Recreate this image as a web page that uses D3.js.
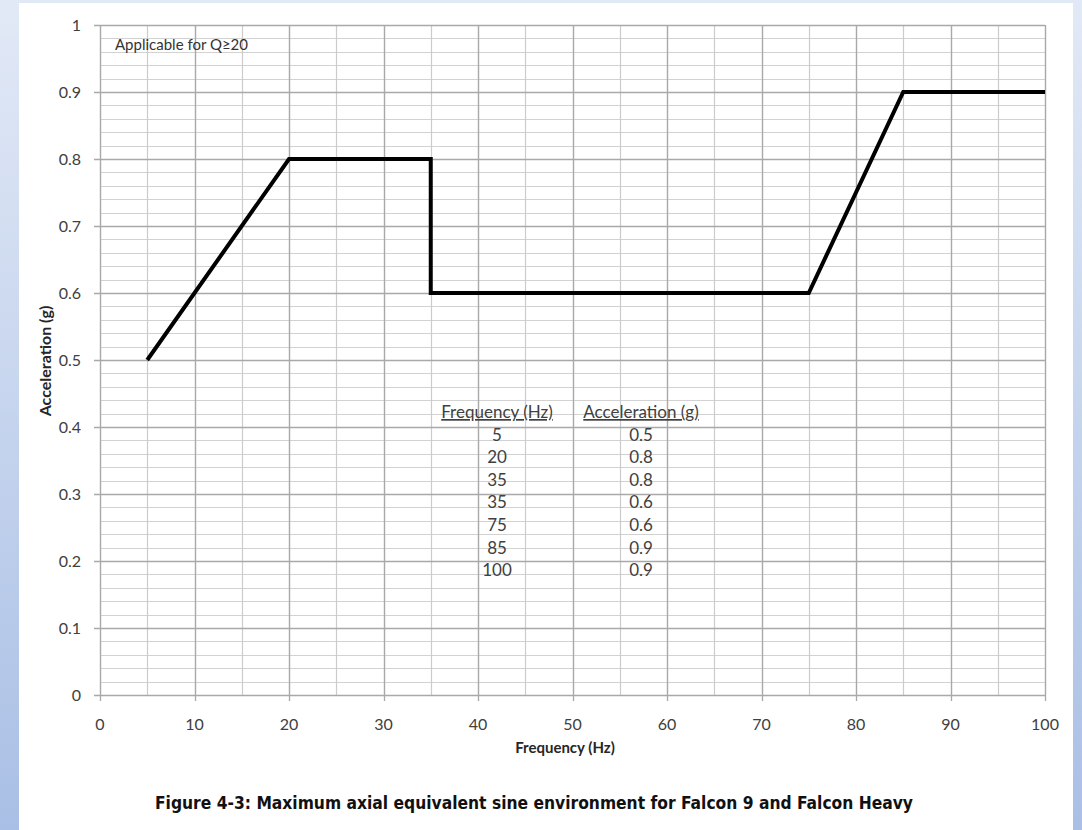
<!DOCTYPE html>
<html>
<head>
<meta charset="utf-8">
<script src="https://cdn.jsdelivr.net/npm/d3@7"></script>
<style>
  html, body { margin: 0; padding: 0; }
  body { width: 1082px; height: 830px; overflow: hidden; background: #fff; }
</style>
</head>
<body>
<div id="chart"></div>
<script>
// breakpoints of the sine environment (also shown in the inset table)
var frequencies = [5, 20, 35, 35, 75, 85, 100];
var accelerations = [0.5, 0.8, 0.8, 0.6, 0.6, 0.9, 0.9];

var xTicks = [0, 10, 20, 30, 40, 50, 60, 70, 80, 90, 100];
var yTicks = [0, 0.1, 0.2, 0.3, 0.4, 0.5, 0.6, 0.7, 0.8, 0.9, 1];
var xMinor = d3.range(0, 101, 5);
var yMinor = d3.range(0, 51).map(function(i) { return i / 50; });

var tableHeaders = ['Frequency (Hz)', 'Acceleration (g)'];
var note = 'Applicable for Q\u226520';
var caption = 'Figure 4-3: Maximum axial equivalent sine environment for Falcon 9 and Falcon Heavy';

(function() {
    var width = 1082, height = 830;
    var left = 100, right = 1045, top = 25, bottom = 695;
    var tickFont = 'Lato, "Open Sans", sans-serif';

    var svg = d3.select('#chart').append('svg')
        .attr('width', width)
        .attr('height', height);

    // blue frame round the page
    var defs = svg.append('defs');
    var grad = defs.append('linearGradient')
        .attr('id', 'frame')
        .attr('x1', 0).attr('y1', 0).attr('x2', 0).attr('y2', 1);
    grad.append('stop').attr('offset', '0%').attr('stop-color', '#e2e9f6');
    grad.append('stop').attr('offset', '100%').attr('stop-color', '#a9bfe5');
    svg.append('rect').attr('width', width).attr('height', height).attr('fill', 'url(#frame)');
    svg.append('rect').attr('x', 19).attr('y', 3).attr('width', 1054).attr('height', height - 3).attr('fill', '#fff');

    var x = d3.scaleLinear().domain([0, 100]).range([left, right]);
    var y = d3.scaleLinear().domain([0, 1]).range([bottom, top]);

    var grid = svg.append('g');
    grid.selectAll('line.hmin')
        .data(yMinor)
        .join('line')
        .attr('x1', left).attr('x2', right)
        .attr('y1', function(d) { return Math.round(y(d)) + 0.5; })
        .attr('y2', function(d) { return Math.round(y(d)) + 0.5; })
        .attr('stroke', '#d2d2d2')
        .attr('stroke-width', 1.2);
    grid.selectAll('line.vmin')
        .data(xMinor)
        .join('line')
        .attr('y1', top).attr('y2', bottom)
        .attr('x1', function(d) { return Math.round(x(d)) + 0.5; })
        .attr('x2', function(d) { return Math.round(x(d)) + 0.5; })
        .attr('stroke', '#cccccc')
        .attr('stroke-width', 1.2);
    grid.selectAll('line.hmaj')
        .data(yTicks)
        .join('line')
        .attr('x1', left - 6).attr('x2', right)
        .attr('y1', function(d) { return Math.round(y(d)) + 0.5; })
        .attr('y2', function(d) { return Math.round(y(d)) + 0.5; })
        .attr('stroke', '#a9a9a9')
        .attr('stroke-width', 1.3);
    grid.selectAll('line.vmaj')
        .data(xTicks)
        .join('line')
        .attr('y1', top).attr('y2', bottom + 6)
        .attr('x1', function(d) { return Math.round(x(d)) + 0.5; })
        .attr('x2', function(d) { return Math.round(x(d)) + 0.5; })
        .attr('stroke', '#a9a9a9')
        .attr('stroke-width', 1.3);

    // tick labels
    svg.append('g').selectAll('text')
        .data(yTicks)
        .join('text')
        .attr('x', left - 19)
        .attr('y', function(d) { return y(d); })
        .attr('dy', '0.35em')
        .attr('text-anchor', 'end')
        .attr('font-family', tickFont)
        .attr('font-size', '16px')
        .attr('fill', '#404040')
        .text(function(d) { return d3.format('~g')(d); });

    svg.append('g').selectAll('text')
        .data(xTicks)
        .join('text')
        .attr('x', function(d) { return x(d); })
        .attr('y', bottom + 35)
        .attr('text-anchor', 'middle')
        .attr('font-family', tickFont)
        .attr('font-size', '16px')
        .attr('fill', '#404040')
        .text(function(d) { return d; });

    // axis titles
    svg.append('text')
        .attr('transform', 'translate(51,' + 361 + ') rotate(-90)')
        .attr('text-anchor', 'middle')
        .attr('font-family', tickFont)
        .attr('font-weight', 'bold')
        .attr('font-size', '16px')
        .attr('fill', '#262626')
        .text('Acceleration (g)');

    svg.append('text')
        .attr('x', 565)
        .attr('y', bottom + 58)
        .attr('text-anchor', 'middle')
        .attr('font-family', tickFont)
        .attr('font-weight', 'bold')
        .attr('font-size', '15px')
        .attr('fill', '#262626')
        .text('Frequency (Hz)');

    // the envelope line
    var points = frequencies.map(function(f, i) { return [f, accelerations[i]]; });
    var line = d3.line()
        .x(function(d) { return x(d[0]); })
        .y(function(d) { return y(d[1]); });
    svg.append('path')
        .datum(points)
        .attr('d', line)
        .attr('fill', 'none')
        .attr('stroke', '#000')
        .attr('stroke-width', 4)
        .attr('stroke-linejoin', 'miter');

    // note in the top left corner
    svg.append('text')
        .attr('x', 115)
        .attr('y', 50)
        .attr('font-family', tickFont)
        .attr('font-size', '15px')
        .attr('fill', '#333')
        .text(note);

    // inset table
    var col1 = 497, col2 = 641, headY = 418, rowH = 22.6;
    var table = svg.append('g')
        .attr('font-family', tickFont)
        .attr('font-size', '17px')
        .attr('fill', '#404040')
        .attr('text-anchor', 'middle');
    table.selectAll('text.head')
        .data(tableHeaders)
        .join('text')
        .attr('x', function(d, i) { return i === 0 ? col1 : col2; })
        .attr('y', headY)
        .attr('text-decoration', 'underline')
        .text(function(d) { return d; });
    table.selectAll('text.f')
        .data(frequencies)
        .join('text')
        .attr('x', col1)
        .attr('y', function(d, i) { return headY + rowH * (i + 1); })
        .text(function(d) { return d; });
    table.selectAll('text.a')
        .data(accelerations)
        .join('text')
        .attr('class', 'a')
        .attr('x', col2)
        .attr('y', function(d, i) { return headY + rowH * (i + 1); })
        .text(function(d) { return d.toFixed(1); });

    // caption
    svg.append('text')
        .attr('x', 534)
        .attr('y', 809)
        .attr('text-anchor', 'middle')
        .attr('font-family', '"DejaVu Sans Condensed", "DejaVu Sans", sans-serif')
        .attr('font-weight', 'bold')
        .attr('font-size', '17px')
        .attr('textLength', 758)
        .attr('lengthAdjust', 'spacingAndGlyphs')
        .attr('fill', '#111')
        .text(caption);
})();
</script>
</body>
</html>
